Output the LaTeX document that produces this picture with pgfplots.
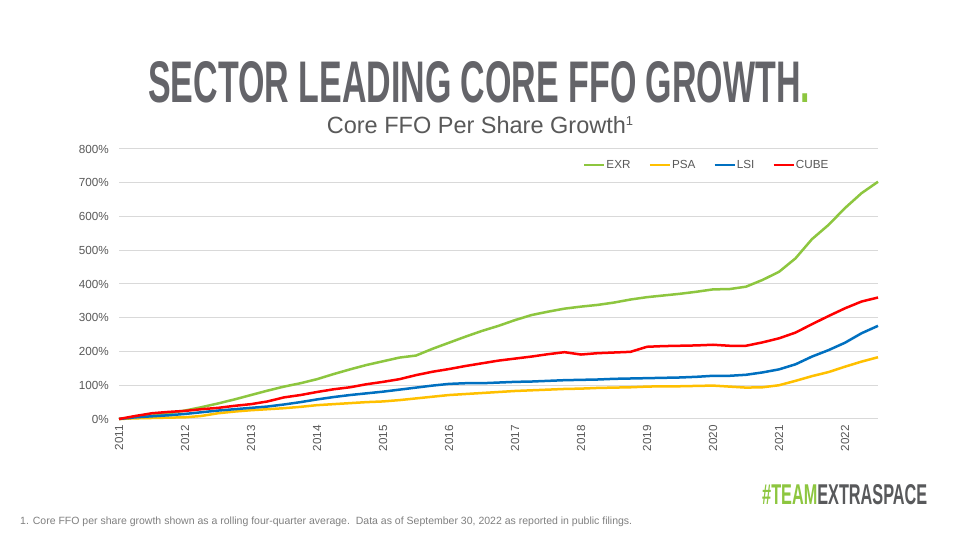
\documentclass[border=0pt]{standalone}
\usepackage{pgfplots}
\pgfplotsset{compat=1.18}
\usepackage{pgfplotstable}
\usepackage{fontspec}
\setmainfont{Liberation Sans}
\usepackage{graphicx}
\definecolor{exr}{HTML}{8DC63F}
\definecolor{psa}{HTML}{FFC000}
\definecolor{lsi}{HTML}{0070C0}
\definecolor{cube}{HTML}{FF0000}
\definecolor{titlegray}{HTML}{646469}
\definecolor{txtgray}{HTML}{595959}
\definecolor{gridgray}{HTML}{D9D9D9}
\definecolor{footgray}{HTML}{808080}
\definecolor{logogray}{HTML}{58595B}

\pgfplotstableread{
q EXR PSA LSI CUBE
0 0 0 0 0
1 5 2 5 9
2 10 3 8 17
3 17 4 11 21
4 25 5 15 24
5 35 9 20 29
6 46 17 25 33
7 58 22 29 39
8 71 26 33 44
9 84 29 37 52
10 96 32 43 64
11 106 36 50 71
12 118 41 58 80
13 133 44 65 88
14 147 47 71 94
15 160 50 76 103
16 171 52 81 110
17 182 56 87 118
18 188 61 93 130
19 208 66 99 140
20 226 71 104 148
21 244 74 106 157
22 261 77 106 165
23 276 80 108 173
24 293 83 110 179
25 308 85 111 185
26 318 87 113 192
27 327 89 115 198
28 333 90 116 191
29 338 92 117 195
30 345 93 119 197
31 354 94 120 199
32 361 96 121 214
33 366 97 122 216
34 371 97 123 217
35 377 98 125 218
36 384 99 128 220
37 385 96 128 217
38 392 93 131 217
39 412 94 138 227
40 436 100 147 239
41 476 113 162 256
42 533 127 185 281
43 575 139 204 305
44 625 155 226 328
45 669 170 254 348
46 703 183 276 360
}\data

\begin{document}
\begin{tikzpicture}
\path[use as bounding box, fill=white] (0pt,0pt) rectangle (960pt,540pt);
% Title
\node[anchor=base west, inner sep=0pt, text=titlegray] at (148pt,437pt)
  {\resizebox{662pt}{41pt}{\bfseries SECTOR LEADING CORE FFO GROWTH\textcolor{exr}{.}}};
% Subtitle
\node[anchor=base, inner sep=0pt, text=txtgray, font=\fontsize{23.5}{28}\selectfont] at (480pt,406pt)
  {Core FFO Per Share Growth\raisebox{8pt}{\fontsize{13}{14}\selectfont 1}};
% Footnote
\node[anchor=base west, inner sep=0pt, text=footgray] at (20pt,15pt)
  {\resizebox{612pt}{!}{\fontsize{10}{12}\selectfont 1. Core FFO per share growth shown as a rolling four-quarter average.\ \ Data as of September 30, 2022 as reported in public filings.}};
% Logo
\node[anchor=base west, inner sep=0pt] at (762pt,35pt)
  {\resizebox{165pt}{20pt}{\bfseries\textcolor{exr}{\#TEAM}\textcolor{logogray}{EXTRASPACE}}};

\begin{axis}[
  at={(119pt,121pt)}, anchor=south west,
  scale only axis, width=759pt, height=270pt,
  xmin=0, xmax=46, ymin=0, ymax=800,
  axis line style={draw=none},
  major tick length=0pt,
  xtick={0,4,...,44},
  xticklabels={2011,2012,2013,2014,2015,2016,2017,2018,2019,2020,2021,2022},
  ytick={0,100,...,800},
  yticklabels={0\%,100\%,200\%,300\%,400\%,500\%,600\%,700\%,800\%},
  ymajorgrids, grid style={line width=1pt, gridgray},
  tick label style={text=txtgray, font=\fontsize{11.7}{14}\selectfont, inner sep=0pt},
  xticklabel style={rotate=90, anchor=east},
  yticklabel style={anchor=east},
  xticklabel shift=6pt, yticklabel shift=10pt,
  clip=false,
  legend columns=4,
  legend style={at={(0.611,0.941)}, anchor=west, draw=none, fill=none, inner sep=0pt,
    font=\fontsize{11.7}{14}\selectfont, text=txtgray, nodes={inner sep=1pt},
    /tikz/every even column/.append style={column sep=17pt}},
  legend image code/.code={\draw[#1] (0pt,0pt) -- (20pt,0pt);},
  every axis plot/.append style={line width=2.5pt, line join=round},
]
\addplot[exr] table[x=q,y=EXR] {\data};
\addlegendentry{EXR}
\addplot[psa] table[x=q,y=PSA] {\data};
\addlegendentry{PSA}
\addplot[lsi] table[x=q,y=LSI] {\data};
\addlegendentry{LSI}
\addplot[cube] table[x=q,y=CUBE] {\data};
\addlegendentry{CUBE}
\end{axis}
\end{tikzpicture}
\end{document}
